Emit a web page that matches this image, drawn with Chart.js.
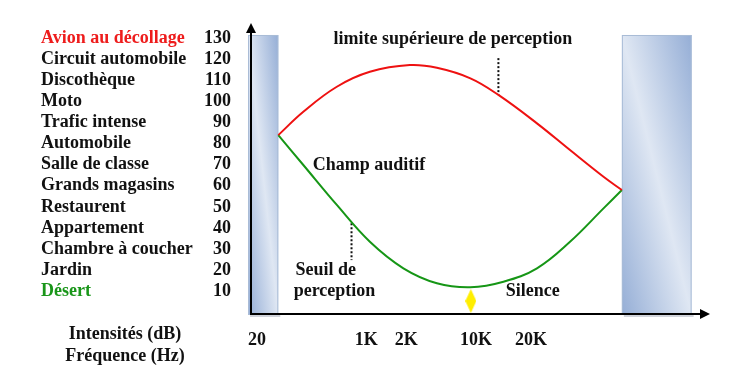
<!DOCTYPE html>
<html>
<head>
<meta charset="utf-8">
<script src="https://cdn.jsdelivr.net/npm/chart.js@4/dist/chart.umd.min.js"></script>
<style>
  html, body { margin: 0; padding: 0; background: #ffffff; }
  #wrap { width: 747px; height: 379px; position: relative; }
</style>
</head>
<body>
<div id="wrap"><canvas id="c"></canvas></div>
<script>
// ---- data ----
const sourceNames  = ['Avion au décollage','Circuit automobile','Discothèque','Moto','Trafic intense','Automobile','Salle de classe','Grands magasins','Restaurent','Appartement','Chambre à coucher','Jardin','Désert'];
const sourceLevels = [130,120,110,100,90,80,70,60,50,40,30,20,10];

const freqLabels    = ['20','1K','2K','10K','20K'];
const freqPositions = [1.3, 25.1, 33.8, 49.0, 61.0];

const upperX = [5.95, 11.4, 18.7, 25.9, 34.6, 40.5, 47.8, 53.9, 62.3, 69.5, 76.8, 80.8];
const upperY = [84.1, 95.2, 107.1, 114.2, 117.4, 116.1, 111.1, 103.2, 89.7, 77.0, 64.3, 58.0];

const lowerX = [5.95, 11.4, 18.7, 25.9, 33.2, 40.5, 47.8, 55.0, 62.3, 69.5, 76.8, 80.8];
const lowerY = [84.1, 69.9, 50.9, 33.4, 20.8, 13.7, 11.8, 14.4, 20.8, 33.4, 49.3, 58.0];

const silenceX = [47.9];
const silenceY = [5.25];

const upperMarkX = [53.9, 53.9];
const upperMarkY = [120.7, 103.2];
const lowerMarkX = [21.9, 21.9];
const lowerMarkY = [42.2, 24.7];

// non audible bands (infrasons / ultrasons): [x0, x1, top dB]
const bandLow  = [-0.65, 5.95, 131.7];
const bandHigh = [80.8, 96.0, 131.7];

const annotations = [
  {text: 'limite supérieure de perception', x: 44.0, y: 127.4},
  {text: 'Champ auditif', x: 25.7, y: 67.5},
  {text: 'Seuil de', x: 16.3, y: 17.6},
  {text: 'perception', x: 18.2, y: 7.4},
  {text: 'Silence', x: 61.4, y: 7.4}
];

const FONT = "'Liberation Serif', 'Times New Roman', serif";
const FSIZE = 18;
const RED = '#ee1c1c';
const GREEN = '#1a961a';

function toPts(xs, ys) { return xs.map((x, i) => ({x: x, y: ys[i]})); }

// diamond point image
const diamond = document.createElement('canvas');
diamond.width = 11; diamond.height = 24;
(function(){
  const g = diamond.getContext('2d');
  g.fillStyle = '#ffee00';
  g.beginPath();
  g.moveTo(5.5, 0); g.lineTo(11, 12); g.lineTo(5.5, 24); g.lineTo(0, 12); g.closePath();
  g.fill();
})();

const bandsPlugin = {
  id: 'bands',
  beforeDatasetsDraw(chart) {
    const {ctx, scales: {x, y}} = chart;
    function band(b) {
      const x0 = x.getPixelForValue(b[0]), x1 = x.getPixelForValue(b[1]);
      const yt = y.getPixelForValue(b[2]), yb = y.getPixelForValue(y.min) + 1;
      const w = x1 - x0, h = yb - yt;
      ctx.save();
      ctx.fillStyle = 'rgba(120,130,150,0.35)';
      ctx.fillRect(x0 + 2, yb - 1, w, 3);
      ctx.save();
      ctx.translate(x0, yt);
      ctx.scale(w, h);
      const g = ctx.createLinearGradient(0, 1, 1, 0);
      g.addColorStop(0, '#95aed6');
      g.addColorStop(0.5, '#dfe7f3');
      g.addColorStop(1, '#95aed6');
      ctx.fillStyle = g;
      ctx.fillRect(0, 0, 1, 1);
      ctx.restore();
      ctx.strokeStyle = '#a9bcd6';
      ctx.lineWidth = 1;
      ctx.strokeRect(x0 + 0.5, yt + 0.5, w - 1, h - 1);
      ctx.restore();
    }
    band(bandLow);
    band(bandHigh);
  }
};

const decorPlugin = {
  id: 'decor',
  afterDatasetsDraw(chart) {
    const {ctx, chartArea: a, scales: {x, y}} = chart;
    ctx.save();
    ctx.strokeStyle = '#000'; ctx.fillStyle = '#000'; ctx.lineWidth = 2;
    ctx.beginPath();
    ctx.moveTo(a.left, a.bottom); ctx.lineTo(a.left, a.top + 8);
    ctx.moveTo(a.left - 1, a.bottom); ctx.lineTo(a.right - 8, a.bottom);
    ctx.stroke();
    ctx.beginPath();
    ctx.moveTo(a.left, a.top); ctx.lineTo(a.left + 5, a.top + 10); ctx.lineTo(a.left - 5, a.top + 10); ctx.closePath();
    ctx.fill();
    ctx.beginPath();
    ctx.moveTo(a.right, a.bottom); ctx.lineTo(a.right - 10, a.bottom - 5); ctx.lineTo(a.right - 10, a.bottom + 5); ctx.closePath();
    ctx.fill();

    ctx.font = 'bold ' + FSIZE + 'px ' + FONT;
    ctx.textAlign = 'center';
    ctx.textBaseline = 'alphabetic';
    ctx.fillStyle = '#111';
    annotations.forEach(t => {
      ctx.fillText(t.text, x.getPixelForValue(t.x), y.getPixelForValue(t.y));
    });

    ctx.textAlign = 'left';
    ctx.textBaseline = 'middle';
    sourceNames.forEach((n, i) => {
      ctx.fillStyle = i === 0 ? RED : (i === sourceNames.length - 1 ? GREEN : '#111');
      ctx.fillText(n, 41, y.getPixelForValue(sourceLevels[i]));
    });

    ctx.fillStyle = '#111';
    ctx.textAlign = 'center';
    ctx.textBaseline = 'alphabetic';
    ctx.fillText('Intensités (dB)', 125, 339);
    ctx.fillText('Fréquence (Hz)', 125, 361);
    ctx.restore();
  }
};

new Chart(document.getElementById('c'), {
  type: 'line',
  data: {
    datasets: [
      {data: toPts(upperX, upperY), borderColor: '#ee1111', borderWidth: 2, pointRadius: 0, tension: 0.4, fill: false},
      {data: toPts(lowerX, lowerY), borderColor: '#169616', borderWidth: 2, pointRadius: 0, tension: 0.4, fill: false},
      {data: toPts(upperMarkX, upperMarkY), borderColor: '#111', borderWidth: 2, borderDash: [2, 2], pointRadius: 0, fill: false},
      {data: toPts(lowerMarkX, lowerMarkY), borderColor: '#111', borderWidth: 2, borderDash: [2, 2], pointRadius: 0, fill: false},
      {data: toPts(silenceX, silenceY), showLine: false, pointStyle: diamond, pointRadius: 12, borderWidth: 0}
    ]
  },
  options: {
    responsive: true,
    maintainAspectRatio: false,
    animation: false,
    clip: false,
    layout: {padding: {left: 0, right: 37, top: 23, bottom: 25}},
    plugins: {legend: {display: false}, tooltip: {enabled: false}},
    scales: {
      x: {
        type: 'linear', min: 0, max: 100,
        grid: {display: false}, border: {display: false},
        afterBuildTicks(s) { s.ticks = freqPositions.map(v => ({value: v})); },
        afterFit(s) { s.height = 40; },
        ticks: {
          padding: 8, maxRotation: 0, autoSkip: false,
          color: '#111', font: {family: FONT, size: FSIZE, weight: 'bold'},
          callback(v) { const i = freqPositions.indexOf(v); return i >= 0 ? freqLabels[i] : ''; }
        }
      },
      y: {
        type: 'linear', min: -0.93, max: 137.4,
        grid: {display: false}, border: {display: false},
        afterBuildTicks(s) { s.ticks = sourceLevels.map(v => ({value: v})); },
        afterFit(s) { s.width = 251; },
        ticks: {
          padding: 12, autoSkip: false,
          color: '#111', font: {family: FONT, size: FSIZE, weight: 'bold'},
          callback(v) { return String(v); }
        }
      }
    }
  },
  plugins: [bandsPlugin, decorPlugin]
});
</script>
</body>
</html>
